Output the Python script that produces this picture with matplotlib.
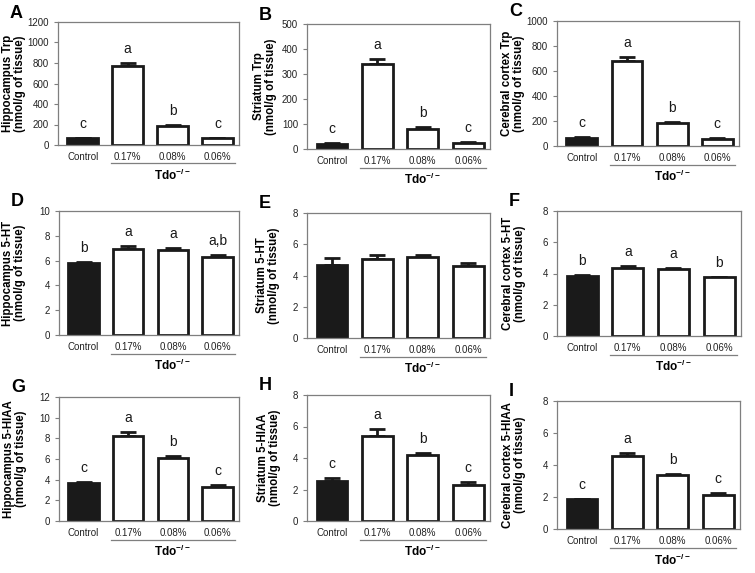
import matplotlib
matplotlib.use("Agg")
import matplotlib.pyplot as plt
import matplotlib.transforms as mtransforms

plt.rcParams["font.family"] = ["Liberation Sans", "DejaVu Sans"]
plt.rcParams["mathtext.fontset"] = "custom"
plt.rcParams["mathtext.rm"] = "Liberation Sans"
plt.rcParams["mathtext.bf"] = "Liberation Sans:bold"

GROUPS = ["Control", "0.17%", "0.08%", "0.06%"]

HIPPO_TRP = [65, 770, 185, 65]
HIPPO_TRP_SEM = [5, 30, 12, 8]
STRIATUM_TRP = [20, 340, 82, 25]
STRIATUM_TRP_SEM = [3, 22, 6, 5]
CORTEX_TRP = [68, 680, 183, 57]
CORTEX_TRP_SEM = [5, 35, 12, 5]

HIPPO_5HT = [5.8, 6.95, 6.85, 6.3]
HIPPO_5HT_SEM = [0.1, 0.2, 0.2, 0.15]
STRIATUM_5HT = [4.7, 5.05, 5.2, 4.62]
STRIATUM_5HT_SEM = [0.45, 0.25, 0.08, 0.2]
CORTEX_5HT = [3.82, 4.38, 4.3, 3.75]
CORTEX_5HT_SEM = [0.07, 0.1, 0.08, 0.05]

HIPPO_HIAA = [3.7, 8.2, 6.05, 3.3]
HIPPO_HIAA_SEM = [0.12, 0.4, 0.2, 0.15]
STRIATUM_HIAA = [2.55, 5.4, 4.22, 2.28]
STRIATUM_HIAA_SEM = [0.2, 0.42, 0.08, 0.22]
CORTEX_HIAA = [1.85, 4.55, 3.38, 2.12]
CORTEX_HIAA_SEM = [0.05, 0.22, 0.08, 0.12]

LETTERS_CABC = ["c", "a", "b", "c"]
LETTERS_D = ["b", "a", "a", "a,b"]
LETTERS_E = ["", "", "", ""]
LETTERS_F = ["b", "a", "a", "b"]

# (panel, y label, values, sem, letters, ymax, ystep)
PANELS = [
    ("A", "Hippocampus Trp", HIPPO_TRP, HIPPO_TRP_SEM, LETTERS_CABC, 1200, 200),
    ("B", "Striatum Trp", STRIATUM_TRP, STRIATUM_TRP_SEM, LETTERS_CABC, 500, 100),
    ("C", "Cerebral cortex Trp", CORTEX_TRP, CORTEX_TRP_SEM, LETTERS_CABC, 1000, 200),
    ("D", "Hippocampus 5-HT", HIPPO_5HT, HIPPO_5HT_SEM, LETTERS_D, 10, 2),
    ("E", "Striatum 5-HT", STRIATUM_5HT, STRIATUM_5HT_SEM, LETTERS_E, 8, 2),
    ("F", "Cerebral cortex 5-HT", CORTEX_5HT, CORTEX_5HT_SEM, LETTERS_F, 8, 2),
    ("G", "Hippocampus 5-HIAA", HIPPO_HIAA, HIPPO_HIAA_SEM, LETTERS_CABC, 12, 2),
    ("H", "Striatum 5-HIAA", STRIATUM_HIAA, STRIATUM_HIAA_SEM, LETTERS_CABC, 8, 2),
    ("I", "Cerebral cortex 5-HIAA", CORTEX_HIAA, CORTEX_HIAA_SEM, LETTERS_CABC, 8, 2),
]

# axes boxes in pixels: left, top, right, bottom, y label right edge x
BOXES = [
    (58, 22, 239, 145, 26), (307, 24, 490, 149, 277), (557, 21, 739, 146, 525),
    (59, 211, 239, 335, 26), (307, 213, 490, 338, 280), (557, 211, 741, 336, 526),
    (59, 397, 239, 521, 27), (307, 395, 490, 521, 281), (557, 401, 740, 529, 526),
]

W, H = 755, 573
GRAY = "#7f7f7f"
INK = "#1a1a1a"

fig = plt.figure(figsize=(W / 100, H / 100), dpi=100)

for (label, ylab, vals, sem, letters, ymax, ystep), (l, t, r, b, lx) in zip(PANELS, BOXES):
    ax = fig.add_axes([l / W, 1 - b / H, (r - l) / W, (b - t) / H])
    x = list(range(len(GROUPS)))
    colors = [INK, "white", "white", "white"]
    ax.bar(x, vals, width=0.68, color=colors, edgecolor=INK, linewidth=2, zorder=2)
    ax.errorbar(x, vals, yerr=[[0] * len(sem), sem], fmt="none", ecolor=INK,
                elinewidth=2, capsize=6, capthick=2, zorder=1)
    for xi, v, e, s in zip(x, vals, sem, letters):
        if s:
            ax.annotate(s, (xi, v + e), xytext=(0, 5), textcoords="offset points",
                        ha="center", va="bottom", fontsize=10, color=INK)
    ax.set_xlim(-0.55, 3.48)
    ax.set_ylim(0, ymax)
    ax.set_yticks(range(0, ymax + 1, ystep))
    ax.set_xticks(x)
    ax.set_xticklabels(GROUPS)
    ax.tick_params(labelsize=7, colors="#222222", length=3, width=0.8, color=GRAY)
    ax.tick_params(axis="x", length=0, pad=5)
    for sp in ax.spines.values():
        sp.set_color(GRAY)
        sp.set_linewidth(0.9)
    ax.set_ylabel(ylab + "\n(nmol/g of tissue)", fontsize=8.3, fontweight="bold",
                  linespacing=1.0)
    ax.yaxis.set_label_coords((lx - l) / (r - l), 0.5)

    trans = mtransforms.blended_transform_factory(ax.transData, ax.transAxes)
    ax.plot([0.62, 3.4], [-0.15, -0.15], color=GRAY, lw=0.9, transform=trans, clip_on=False)
    ax.text(2.0, -0.245, r"$\mathbf{Tdo^{-/-}}$", transform=trans, ha="center", va="center",
            fontsize=8.5)

    fig.text((l - 48) / W, 1 - (t - 9) / H, label, fontsize=13, fontweight="bold",
             ha="left", va="center")

fig.savefig("out.png", dpi=100)
